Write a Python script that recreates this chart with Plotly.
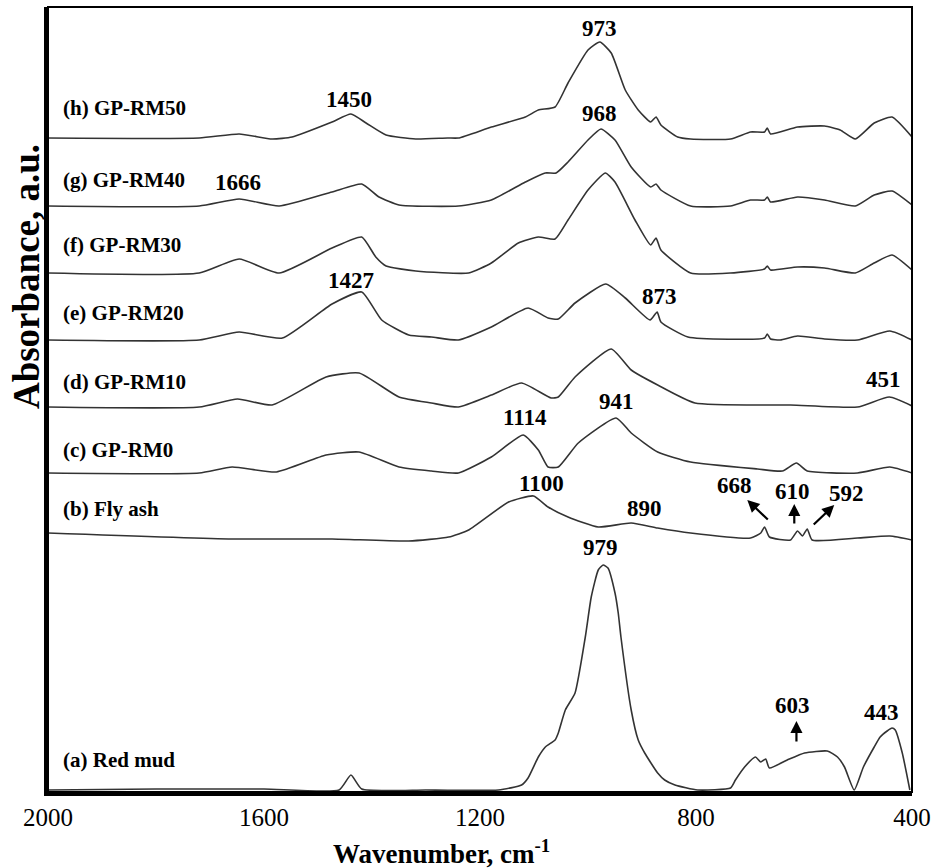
import plotly.graph_objects as go

# ---------------- data (wavenumber cm-1, absorbance a.u.) ----------------
rm50_wn = [2000, 1720, 1646, 1585, 1548, 1474, 1439, 1411, 1374, 1319, 1260, 1240, 1179, 1116, 1092, 1061, 1037, 1000, 978, 957, 931, 907, 884, 874, 865, 834, 810, 736, 699, 673, 668, 662, 612, 562, 533, 505, 470, 437, 400]
rm50_ab = [0.01, 0.01, 0.05, 0.00, 0.02, 0.17, 0.25, 0.16, 0.04, 0.00, 0.01, 0.01, 0.12, 0.22, 0.29, 0.32, 0.56, 0.89, 0.97, 0.86, 0.49, 0.29, 0.17, 0.22, 0.14, 0.02, 0.00, 0.00, 0.07, 0.07, 0.11, 0.05, 0.12, 0.13, 0.09, 0.00, 0.16, 0.22, 0.02]

rm40_wn = [2000, 1720, 1646, 1572, 1474, 1419, 1387, 1350, 1240, 1179, 1116, 1079, 1059, 1037, 1000, 976, 950, 920, 884, 874, 865, 810, 736, 699, 673, 668, 662, 612, 562, 505, 470, 437, 400]
rm40_ab = [0.00, 0.00, 0.07, 0.00, 0.14, 0.22, 0.09, 0.01, 0.00, 0.06, 0.24, 0.33, 0.33, 0.44, 0.66, 0.77, 0.66, 0.39, 0.19, 0.22, 0.16, 0.00, 0.00, 0.06, 0.06, 0.09, 0.04, 0.09, 0.06, 0.00, 0.11, 0.15, 0.01]

rm30_wn = [2000, 1720, 1646, 1572, 1474, 1419, 1393, 1374, 1319, 1221, 1179, 1129, 1092, 1061, 1037, 1000, 968, 950, 913, 884, 874, 865, 810, 736, 673, 668, 662, 612, 562, 505, 470, 437, 400]
rm30_ab = [0.00, 0.00, 0.14, 0.00, 0.25, 0.36, 0.16, 0.07, 0.02, 0.00, 0.10, 0.30, 0.36, 0.34, 0.53, 0.83, 1.00, 0.91, 0.53, 0.28, 0.35, 0.23, 0.00, 0.00, 0.04, 0.07, 0.03, 0.06, 0.05, 0.00, 0.10, 0.18, 0.03]

rm20_wn = [2000, 1720, 1646, 1566, 1474, 1419, 1382, 1332, 1290, 1240, 1179, 1111, 1074, 1055, 1024, 967, 931, 885, 872, 865, 815, 673, 668, 662, 644, 612, 562, 501, 441, 400]
rm20_ab = [0.00, 0.00, 0.08, 0.02, 0.36, 0.48, 0.20, 0.05, 0.03, 0.00, 0.13, 0.32, 0.22, 0.21, 0.37, 0.56, 0.42, 0.20, 0.28, 0.18, 0.03, 0.02, 0.06, 0.01, 0.00, 0.04, 0.01, 0.00, 0.09, 0.00]

rm10_wn = [2000, 1720, 1649, 1585, 1485, 1424, 1350, 1290, 1240, 1179, 1123, 1068, 1055, 1024, 957, 920, 871, 802, 625, 501, 442, 400]
rm10_ab = [0.00, 0.00, 0.08, 0.02, 0.30, 0.34, 0.10, 0.04, 0.00, 0.12, 0.24, 0.09, 0.10, 0.30, 0.58, 0.37, 0.22, 0.04, 0.02, 0.00, 0.10, 0.01]

rm0_wn = [2000, 1720, 1659, 1577, 1485, 1424, 1350, 1290, 1240, 1179, 1120, 1092, 1074, 1055, 1018, 948, 920, 871, 810, 686, 640, 614, 594, 501, 441, 400]
rm0_ab = [0.00, 0.00, 0.06, 0.01, 0.18, 0.21, 0.06, 0.02, 0.00, 0.16, 0.38, 0.23, 0.06, 0.06, 0.30, 0.55, 0.40, 0.21, 0.11, 0.04, 0.02, 0.10, 0.02, 0.00, 0.06, 0.00]

fa_wn = [2000, 1659, 1474, 1332, 1258, 1221, 1147, 1101, 1074, 1037, 981, 920, 871, 810, 699, 680, 673, 664, 625, 612, 603, 594, 585, 501, 441, 400]
fa_ab = [0.08, 0.02, 0.02, 0.00, 0.04, 0.11, 0.39, 0.45, 0.34, 0.24, 0.14, 0.18, 0.13, 0.08, 0.03, 0.08, 0.14, 0.04, 0.01, 0.10, 0.05, 0.12, 0.01, 0.03, 0.05, 0.01]

rmud_wn = [2000, 1800, 1600, 1461, 1439, 1419, 1300, 1166, 1123, 1111, 1092, 1079, 1061, 1055, 1042, 1024, 1005, 994, 981, 972, 963, 950, 944, 939, 920, 907, 895, 871, 858, 839, 797, 736, 727, 710, 690, 680, 671, 664, 631, 599, 557, 538, 525, 507, 490, 470, 459, 446, 437, 431, 418, 404]
rmud_ab = [0.00, 0.01, 0.01, 0.00, 0.15, 0.01, 0.00, 0.00, 0.05, 0.12, 0.33, 0.43, 0.50, 0.57, 0.80, 0.97, 1.53, 1.93, 2.20, 2.25, 2.22, 1.97, 1.77, 1.53, 0.80, 0.50, 0.37, 0.17, 0.10, 0.05, 0.00, 0.02, 0.10, 0.23, 0.33, 0.28, 0.31, 0.22, 0.30, 0.37, 0.39, 0.33, 0.23, 0.00, 0.23, 0.43, 0.53, 0.59, 0.62, 0.60, 0.37, 0.00]

samples = ["(a) Red mud", "(b) Fly ash", "(c) GP-RM0", "(d) GP-RM10",
           "(e) GP-RM20", "(f) GP-RM30", "(g) GP-RM40", "(h) GP-RM50"]
series_wn = [rmud_wn, fa_wn, rm0_wn, rm10_wn, rm20_wn, rm30_wn, rm40_wn, rm50_wn]
series_ab = [rmud_ab, fa_ab, rm0_ab, rm10_ab, rm20_ab, rm30_ab, rm40_ab, rm50_ab]
offsets = [0.02, 2.51, 3.19, 3.85, 4.52, 5.19, 5.86, 6.53]   # vertical stacking

x_ticks = [2000, 1600, 1200, 800, 400]

# peak labels: (text, wavenumber, height)
peak_text = ["973", "1450", "968", "1666", "1427", "873", "451", "941", "1114",
             "1100", "890", "668", "610", "592", "979", "603", "443"]
peak_x = [978, 1443, 978, 1648, 1439, 867, 453, 948, 1116,
          1087, 896, 729, 621, 522, 976, 621, 457]
peak_y = [7.64, 6.93, 6.79, 6.10, 5.12, 4.96, 4.13, 3.91, 3.75,
          3.09, 2.84, 3.07, 3.01, 2.99, 2.45, 0.87, 0.80]

# ---------------- figure ----------------
SERIF = "Liberation Serif"
fig = go.Figure()
for name, wn, ab, off in zip(samples, series_wn, series_ab, offsets):
    fig.add_trace(go.Scatter(
        x=wn, y=[v + off for v in ab], mode="lines", name=name,
        line=dict(color="#333333", width=1.6, shape="spline", smoothing=0.5),
        hoverinfo="skip"))

annotations = []
label_y = [0.32, 2.83, 3.42, 4.10, 4.79, 5.47, 6.12, 6.84]
for name, ly in zip(samples, label_y):
    annotations.append(dict(x=1976, y=ly, text=name, showarrow=False,
                            xanchor="left", yanchor="middle",
                            font=dict(family=SERIF, size=21, color="black", weight="bold")))
for t, px, py in zip(peak_text, peak_x, peak_y):
    annotations.append(dict(x=px, y=py, text=t, showarrow=False,
                            xanchor="center", yanchor="middle",
                            font=dict(family=SERIF, size=23, color="black", weight="bold")))

# arrows (head position, tail offset in px)
arrows = [(705, 2.92, 22, 21), (618, 2.88, 0, 21), (544, 2.87, -22, 21), (614, 0.71, 0, 22)]
for hx, hy, axo, ayo in arrows:
    annotations.append(dict(x=hx, y=hy, ax=axo, ay=ayo, text="", showarrow=True,
                            arrowhead=2, arrowsize=1.1, arrowwidth=2.2, arrowcolor="black"))

# axis titles
annotations.append(dict(xref="paper", yref="paper", x=-0.0254, y=0.656, text="Absorbance, a.u.",
                        textangle=-90, showarrow=False, xanchor="center", yanchor="middle",
                        font=dict(family=SERIF, size=37, color="black", weight="bold")))
annotations.append(dict(xref="paper", yref="paper", x=0.4556, y=-0.0764,
                        text="Wavenumber, cm<sup>-1</sup>", showarrow=False,
                        xanchor="center", yanchor="middle",
                        font=dict(family=SERIF, size=27, color="black", weight="bold")))

fig.update_layout(
    width=938, height=868,
    margin=dict(l=48, r=23, t=7, b=76),
    paper_bgcolor="white", plot_bgcolor="white",
    showlegend=False,
    annotations=annotations,
    xaxis=dict(range=[2000, 400], tickvals=x_ticks, ticktext=[str(v) for v in x_ticks],
               showgrid=False, zeroline=False, showline=True, linecolor="black", linewidth=3.5,
               ticks="", ticklabelstandoff=0,
               tickfont=dict(family=SERIF, size=25, color="black")),
    yaxis=dict(range=[0, 7.85], showticklabels=False, showgrid=False, zeroline=False,
               showline=True, linecolor="black", linewidth=3.5, ticks=""),
    shapes=[dict(type="rect", xref="paper", yref="paper", x0=0, y0=0, x1=1, y1=1,
                 line=dict(color="black", width=2))],
)

fig.write_html("out.html", config={"displayModeBar": False},
               post_script="document.body.style.margin='0';document.body.style.padding='0';")
